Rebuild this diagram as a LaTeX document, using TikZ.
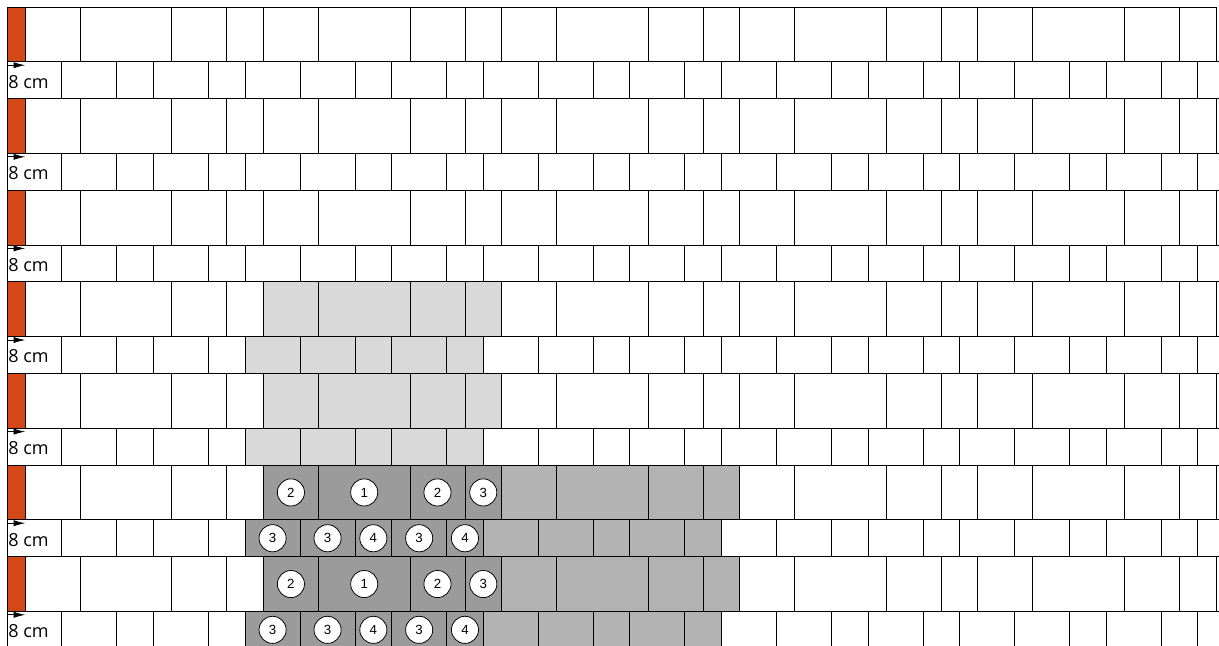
\documentclass[tikz,border=0pt]{standalone}
\usepackage{fontspec}
\setsansfont{Open Sans}
\newfontfamily\numfont{Liberation Sans}
\usetikzlibrary{arrows.meta}
\definecolor{brkred}{RGB}{212,72,24}
\definecolor{brklight}{RGB}{217,217,217}
\definecolor{brkmid}{RGB}{179,179,179}
\definecolor{brkdark}{RGB}{155,155,155}
\tikzset{
  numball/.style={circle,draw,fill=white,line width=0.6pt,inner sep=0pt,
    minimum size=0.74cm,font=\numfont\fontsize{10.3}{12}\selectfont},
  lenlbl/.style={anchor=west,inner sep=0pt,font=\sffamily\fontsize{14}{16}\selectfont},
  lenarrow/.style={-{Latex[length=3.2mm,width=1.7mm]},line width=0.7pt}
}
% tall course, top edge at #1
\newcommand{\tallcourse}[1]{%
  \fill[brkred](0,#1)rectangle(1,#1+3);
  \draw(0,#1)rectangle(66,#1+3);
  \foreach \p in {0,13,...,52}{%
    \foreach \d in {1,4,9,12}{\draw(\p+\d,#1)--++(0,3);}
  }
}
% short course, top edge at #1
\newcommand{\shortcourse}[1]{%
  \draw(67,#1)--(0,#1)--(0,#1+2)--(67,#1+2);
  \foreach \p in {0,13,...,52}{%
    \foreach \d in {3,6,8,11,13}{\draw(\p+\d,#1)--++(0,2);}
  }
}

\begin{document}
\begin{tikzpicture}[x=0.5cm,y=-0.5cm,line width=0.7pt]
  \useasboundingbox(-0.38,-0.38)rectangle(66.16,34.88);
  \clip(-0.38,-0.38)rectangle(66.16,34.88);
  % shaded bricks
  \foreach \k in {3,4}{%
    \fill[brklight](14,5*\k)rectangle(27,5*\k+3);
    \fill[brklight](13,5*\k+3)rectangle(26,5*\k+5);
  }
  \foreach \k in {5,6}{%
    \fill[brkdark](14,5*\k)rectangle(27,5*\k+3);
    \fill[brkmid](27,5*\k)rectangle(40,5*\k+3);
    \fill[brkdark](13,5*\k+3)rectangle(26,5*\k+5);
    \fill[brkmid](26,5*\k+3)rectangle(39,5*\k+5);
  }
  % courses
  \foreach \k in {0,...,6}{%
    \tallcourse{5*\k}
    \shortcourse{5*\k+3}
    \coordinate(arrA\k)at(0,5*\k+3.18);
    \coordinate(arrB\k)at(1,5*\k+3.18);
    \draw[lenarrow](arrA\k)--(arrB\k);
    \node[lenlbl](len\k)at(0.05,5*\k+4.08){8 cm};
  }
  % brick numbers
  \foreach \k in {5,6}{%
    \foreach \x/\n [count=\i] in {15.5/2,19.5/1,23.5/2,26/3}{%
      \node[numball](t\k-\i)at(\x,5*\k+1.5){\n};
    }
    \foreach \x/\n [count=\i] in {14.5/3,17.5/3,20/4,22.5/3,25/4}{%
      \node[numball](s\k-\i)at(\x,5*\k+4){\n};
    }
  }
\end{tikzpicture}
\end{document}
